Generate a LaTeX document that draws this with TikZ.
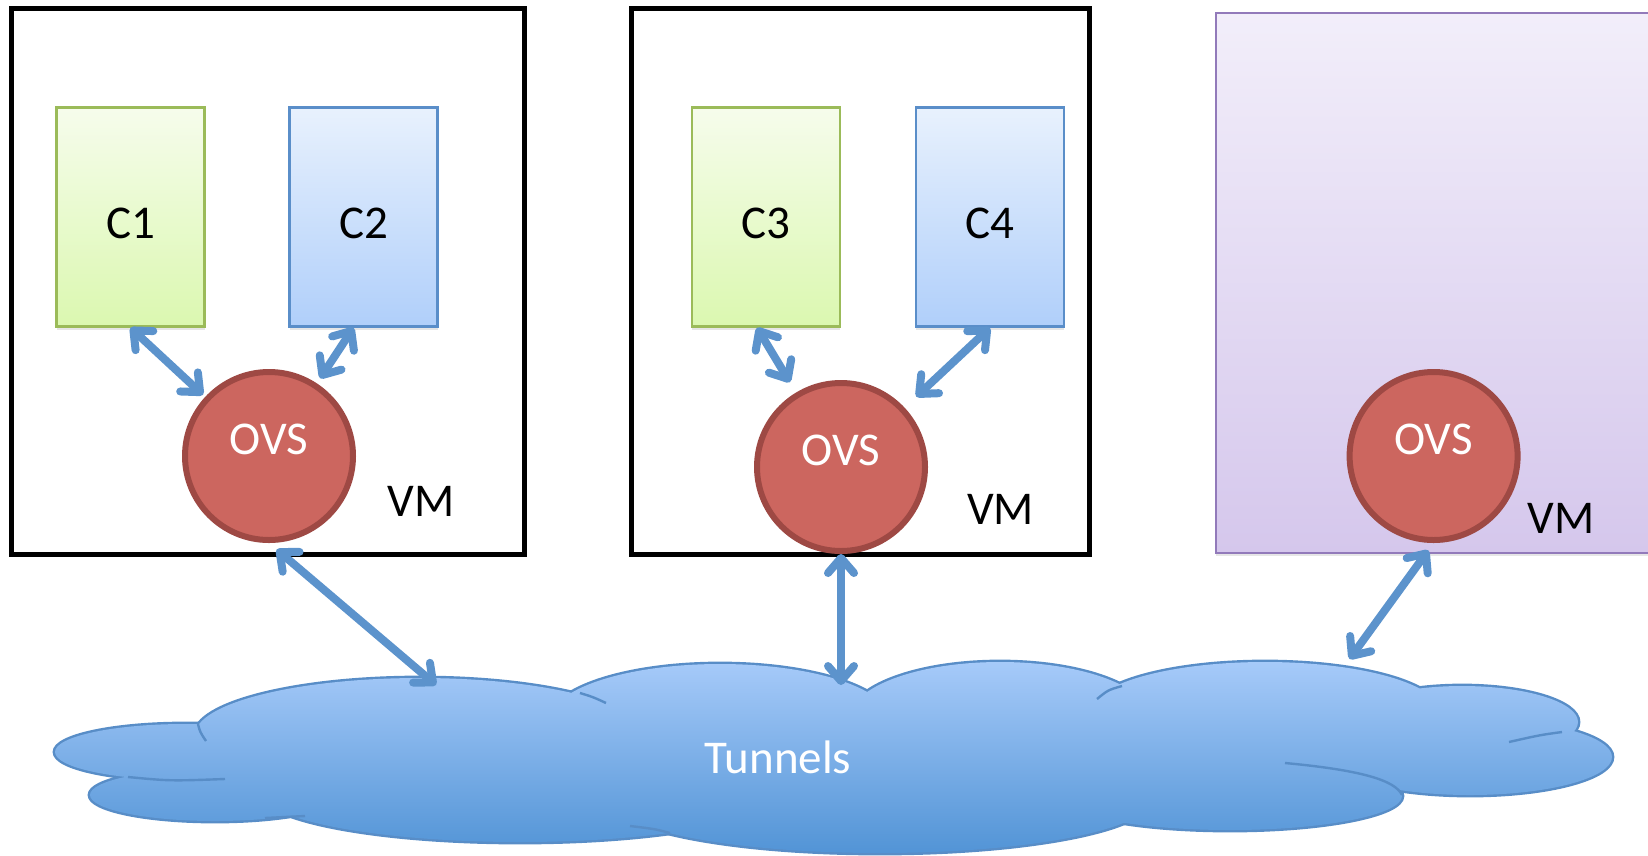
\documentclass[tikz,border=0pt]{standalone}
\usepackage{fontspec}
\setmainfont{Carlito}
\usetikzlibrary{positioning, arrows.meta, shadows}
\definecolor{grntop}{RGB}{246,252,236}
\definecolor{grnbot}{RGB}{219,248,176}
\definecolor{grnedge}{RGB}{155,187,89}
\definecolor{blutop}{RGB}{232,241,253}
\definecolor{blubot}{RGB}{176,207,250}
\definecolor{bluedge}{RGB}{90,142,201}
\definecolor{purtop}{RGB}{242,238,250}
\definecolor{purbot}{RGB}{213,199,236}
\definecolor{puredge}{RGB}{146,122,186}
\definecolor{ovsfill}{RGB}{204,102,95}
\definecolor{ovsedge}{RGB}{158,73,68}
\definecolor{cloudtop}{RGB}{166,202,249}
\definecolor{cloudbot}{RGB}{82,148,214}
\definecolor{cloudedge}{RGB}{88,141,199}
\definecolor{linkblue}{RGB}{92,147,204}

\begin{document}
\begin{tikzpicture}[x=1pt, y=-1pt,
    every node/.style = {inner sep=0pt, font=\fontsize{47}{56}\selectfont},
    vmbox/.style = {draw=black, line width=5pt, minimum height=546pt},
    purbox/.style = {draw=puredge, line width=2.4pt, top color=purtop, bottom color=purbot, minimum width=454pt, minimum height=540pt, drop shadow={shadow xshift=0pt, shadow yshift=-3pt, opacity=0.2}},
    cbox/.style = {line width=2.4pt, minimum width=148pt, minimum height=219pt, text height=42pt, text depth=0pt, drop shadow={shadow xshift=0pt, shadow yshift=-3pt, opacity=0.2}},
    cgreen/.style = {cbox, draw=grnedge, top color=grntop, bottom color=grnbot},
    cblue/.style = {cbox, draw=bluedge, top color=blutop, bottom color=blubot},
    ovs/.style = {circle, draw=ovsedge, fill=ovsfill, line width=6pt, minimum size=168pt, text=white, text depth=34pt, drop shadow={shadow xshift=0pt, shadow yshift=-3pt, opacity=0.2}},
    link/.style = {linkblue, line width=8pt, >={Straight Barb[length=15pt, width=26pt, round]}, <->},
    cloudline/.style = {draw=cloudedge, line width=2.4pt}]
\useasboundingbox (0,0) rectangle (1648,855);

\node[vmbox, minimum width=513pt] (vm1) at (268,281.2) {};
\node[vmbox, minimum width=457.5pt] (vm2) at (860.25,281.2) {};
\node[purbox] (vm3) at (1443,282.8) {};

\node[cgreen] (c1) at (130.5,217) {C1};
\node[cblue] (c2) at (363.5,217) {C2};
\node[cgreen] (c3) at (766,217) {C3};
\node[cblue] (c4) at (990,217) {C4};

\node[ovs] (ovs1) at (269,456) {OVS};
\node[ovs] (ovs2) at (841,467) {OVS};
\node[ovs] (ovs3) at (1433.6,456) {OVS};

\node (lbl1) at (421,501) {VM};
\node (lbl2) at (1000.5,509) {VM};
\node (lbl3) at (1561,518) {VM};

\def\lobes{185/752/130/28, 215/795/125/26, 420/735/225/57, 520/792/260/50, 720/720/170/56, 880/800/270/53, 1000/718/150/56, 1265/712/175/50, 1462/722/116/36, 1470/757/142/38, 1230/796/172/34, 850/770/520/55}
\foreach \cx/\cy/\rx/\ry in \lobes
  \draw[draw=cloudedge, line width=4.8pt] (\cx,\cy) ellipse [x radius=\rx, y radius=\ry];
\shade[top color=cloudtop, bottom color=cloudbot] foreach \cx/\cy/\rx/\ry in \lobes {(\cx,\cy) ellipse [x radius=\rx, y radius=\ry]};
\draw[cloudline] (198,724) .. controls (200,732) .. (206,741);
\draw[cloudline] (128,777) .. controls (170,781) .. (225,779);
\draw[cloudline] (265,818) -- (305,816);
\draw[cloudline] (580,693) .. controls (593,697) .. (606,703);
\draw[cloudline] (670,833) .. controls (655,829) .. (630,826);
\draw[cloudline] (1122,686) .. controls (1108,690) .. (1097,699);
\draw[cloudline] (1562,732) .. controls (1540,735) .. (1509,742);
\draw[cloudline] (1285,763) .. controls (1360,770) and (1395,780) .. (1402,795);

\node[text=white] (tun) at (778,757) {Tunnels};

\coordinate (t1) at (436,685);
\coordinate (t2) at (841,685);
\coordinate (t3) at (1349.5,659);

\draw[link, shorten >=3pt] (c1.south) -- (ovs1);
\draw[link, shorten >=6pt] ([xshift=-10pt]c2.south) -- (ovs1);
\draw[link, shorten >=12pt] ([xshift=-9pt]c3.south) -- (ovs2);
\draw[link, shorten >=16pt] (c4.south) -- (ovs2);
\draw[link, shorten <=10pt] (ovs1.south) -- (t1);
\draw[link] (ovs2.south) -- (t2);
\draw[link, shorten <=9pt] (ovs3.south) -- (t3);
\end{tikzpicture}
\end{document}
